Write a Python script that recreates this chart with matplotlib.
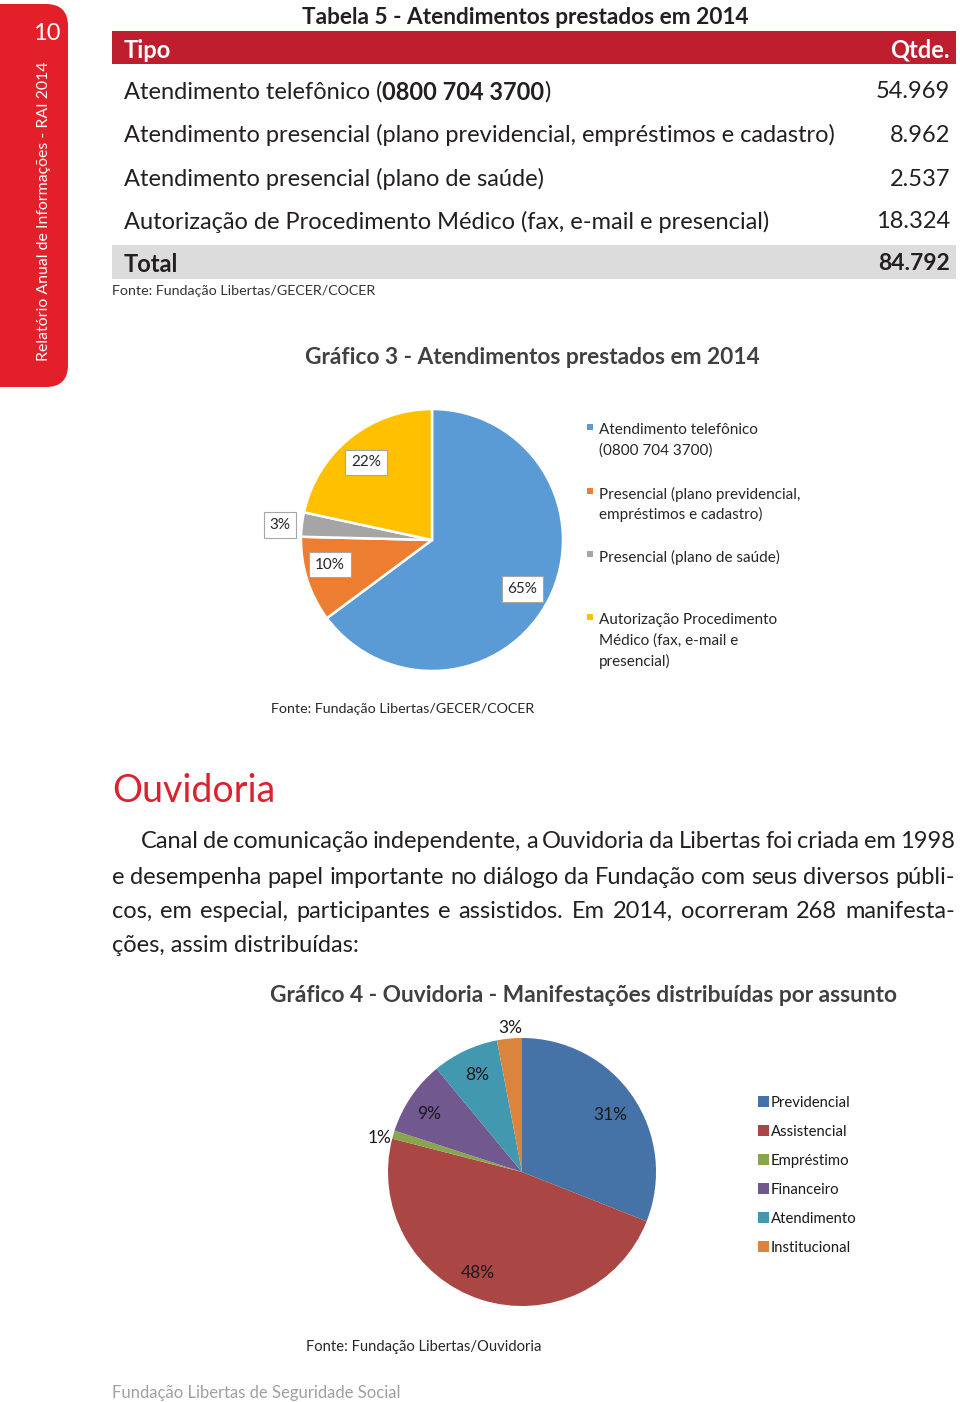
import matplotlib.pyplot as plt
from matplotlib.patches import FancyBboxPatch, Rectangle
import numpy as np

plt.rcParams['font.family'] = ['Lato', 'DejaVu Sans']

# ---- data ----
table_title = 'Tabela 5 - Atendimentos prestados em 2014'
table_header = ['Tipo', 'Qtde.']
phone = '0800 704 3700'
table_types = ['Atendimento telefônico (' + phone + ')',
               'Atendimento presencial (plano previdencial, empréstimos e cadastro)',
               'Atendimento presencial (plano de saúde)',
               'Autorização de Procedimento Médico (fax, e-mail e presencial)']
table_qtd = [54969, 8962, 2537, 18324]
fonte1 = 'Fonte: Fundação Libertas/GECER/COCER'

pie1_title = 'Gráfico 3 - Atendimentos prestados em 2014'
pie1_labels = ['Atendimento telefônico\n(0800 704 3700)',
               'Presencial (plano previdencial,\nempréstimos e cadastro)',
               'Presencial (plano de saúde)',
               'Autorização Procedimento\nMédico (fax, e-mail e\npresencial)']
pie1_pct = ['65%', '10%', '3%', '22%']
pie1_colors = ['#5B9BD5', '#ED7D31', '#A5A5A5', '#FFC000']

section = 'Ouvidoria'
paragraph = ['Canal de comunicação independente, a Ouvidoria da Libertas foi criada em 1998',
             'e desempenha papel importante no diálogo da Fundação com seus diversos públi-',
             'cos, em especial, participantes e assistidos. Em 2014, ocorreram 268 manifesta-',
             'ções, assim distribuídas:']

pie2_title = 'Gráfico 4 - Ouvidoria - Manifestações distribuídas por assunto'
pie2_labels = ['Previdencial', 'Assistencial', 'Empréstimo', 'Financeiro', 'Atendimento', 'Institucional']
pie2_values = [31, 48, 1, 9, 8, 3]
pie2_colors = ['#4572A7', '#AA4643', '#89A54E', '#71588F', '#4198AF', '#DB843D']
fonte2 = 'Fonte: Fundação Libertas/Ouvidoria'
footer = 'Fundação Libertas de Seguridade Social'
side_text = 'Relatório Anual de Informações - RAI 2014'
page_no = '10'


def fmt(v):
    return f'{v:,}'.replace(',', '.')


fig = plt.figure(figsize=(9.6, 14.02), dpi=100)
bg = fig.add_axes([0, 0, 1, 1])
bg.set_xlim(0, 960)
bg.set_ylim(1402, 0)
bg.axis('off')
renderer = fig.canvas.get_renderer()

dark = '#231F20'


def T(x, y, s, **kw):
    # text centred vertically on the page line y (pixels)
    return bg.text(x, y + 2, s, va='center', **kw)


# sidebar
bg.add_patch(FancyBboxPatch((-40, 4), 108, 383, boxstyle='round,pad=0,rounding_size=22',
                            fc='#E3202A', ec='none'))
T(47, 31, page_no, color='white', fontsize=17, ha='center')
bg.text(44, 211, side_text, color='white', fontsize=11.4, rotation=90, ha='center', va='center')

# table
T(525, 15, table_title, fontsize=16.3, fontweight='bold', ha='center', color=dark)
bg.add_patch(Rectangle((112, 31), 844, 33, fc='#BE1E2D', ec='none'))
T(124, 48, table_header[0], color='white', fontsize=17, fontweight='bold')
T(950, 48, table_header[1], color='white', fontsize=17, fontweight='bold', ha='right')


def runs(x, y, parts, size, color):
    for txt, weight in parts:
        t = T(x, y, txt, fontsize=size, fontweight=weight, color=color)
        x += t.get_window_extent(renderer).width


row_y = [90, 133, 177, 220]
for i, (name, q) in enumerate(zip(table_types, table_qtd)):
    if phone in name:
        a, b = name.split(phone)
        runs(124, row_y[i], [(a, 'normal'), (phone, 'bold'), (b, 'normal')], 17, dark)
    else:
        T(124, row_y[i], name, fontsize=17, color=dark)
    T(950, row_y[i], fmt(q), fontsize=17, ha='right', color=dark)

bg.add_patch(Rectangle((112, 245), 844, 34, fc='#DCDCDD', ec='none'))
T(124, 262, 'Total', fontsize=17, fontweight='bold', color=dark)
T(950, 262, fmt(sum(table_qtd)), fontsize=16.5, fontweight='bold', ha='right', color=dark)
T(112, 289, fonte1, fontsize=10.25, color='#333333')

# chart 3
T(532, 355, pie1_title, fontsize=16.4, fontweight='bold', ha='center', color='#404040')
ax1 = fig.add_axes([(432 - 131) / 960, (1402 - 540 - 131) / 1402, 262 / 960, 262 / 1402])
w1, _ = ax1.pie(table_qtd, colors=pie1_colors, startangle=90, counterclock=False,
                wedgeprops=dict(edgecolor='white', linewidth=1.8))
ax1.set_xlim(-1, 1)
ax1.set_ylim(-1, 1)
dist1 = [0.78, 0.79, 1.16, 0.79]
turn1 = [0, -5.5, 0, 0]
for w, lab, d, tr in zip(w1, pie1_pct, dist1, turn1):
    ang = np.deg2rad((w.theta1 + w.theta2) / 2 + tr)
    ax1.annotate(lab, (d * np.cos(ang), d * np.sin(ang)), xytext=(-1, -3), textcoords='offset pixels',
                 fontsize=11, ha='center', va='center', color='#262626', annotation_clip=False,
                 bbox=dict(boxstyle='square,pad=0.38', fc='white', ec='#A6A6A6', lw=0.8))

leg1_y = [428, 492, 555, 618]
for lab, c, y in zip(pie1_labels, pie1_colors, leg1_y):
    bg.add_patch(Rectangle((587, y - 4), 6, 6, fc=c, ec='none'))
    for k, line in enumerate(lab.split('\n')):
        T(599, y + k * 20.8, line, fontsize=11, color='#262626')
T(271, 707, fonte1, fontsize=10.25, color='#262626')

# Ouvidoria
T(112, 789, section, fontsize=27, color='#D9232E')

par_y = [840, 875, 909, 943]
par_x0 = [141, 112, 112, 112]
for k, (line, y, x0) in enumerate(zip(paragraph, par_y, par_x0)):
    if k == len(paragraph) - 1:
        T(x0, y, line, fontsize=17, color=dark)
        continue
    words = line.split(' ')
    ts = [T(0, y, wd, fontsize=17, color=dark) for wd in words]
    ws = [t.get_window_extent(renderer).width for t in ts]
    gap = (955 - x0 - sum(ws)) / (len(words) - 1)
    x = x0
    for t, wd in zip(ts, ws):
        t.set_x(x)
        x += wd + gap

# chart 4
T(584, 994, pie2_title, fontsize=16.4, fontweight='bold', ha='center', color='#404040')
ax2 = fig.add_axes([(522 - 134) / 960, (1402 - 1172 - 134) / 1402, 268 / 960, 268 / 1402])
w2, _ = ax2.pie(pie2_values, colors=pie2_colors, startangle=90, counterclock=False,
                wedgeprops=dict(linewidth=0))
ax2.set_xlim(-1, 1)
ax2.set_ylim(-1, 1)
dist2 = [0.8, 0.8, 1.1, 0.83, 0.82, 1.1]
turn2 = [0, -6.5, 1.5, 1, -1, -1]
for w, v, d, tr in zip(w2, pie2_values, dist2, turn2):
    ang = np.deg2rad((w.theta1 + w.theta2) / 2 + tr)
    ax2.annotate(f'{v}%', (d * np.cos(ang), d * np.sin(ang)), xytext=(0, -3), textcoords='offset pixels',
                 fontsize=12.5, ha='center', va='center', color='#1A1A1A', annotation_clip=False)

for i, (lab, c) in enumerate(zip(pie2_labels, pie2_colors)):
    y = 1101 + i * 29
    bg.add_patch(Rectangle((758, y - 5.5), 11, 11, fc=c, ec='none'))
    T(771, y, lab, fontsize=10.75, color='#1A1A1A')

T(306, 1345, fonte2, fontsize=10.6, color='#262626')
T(112, 1391, footer, fontsize=12, color='#A0A0A0')

fig.savefig('out.png', dpi=100)
